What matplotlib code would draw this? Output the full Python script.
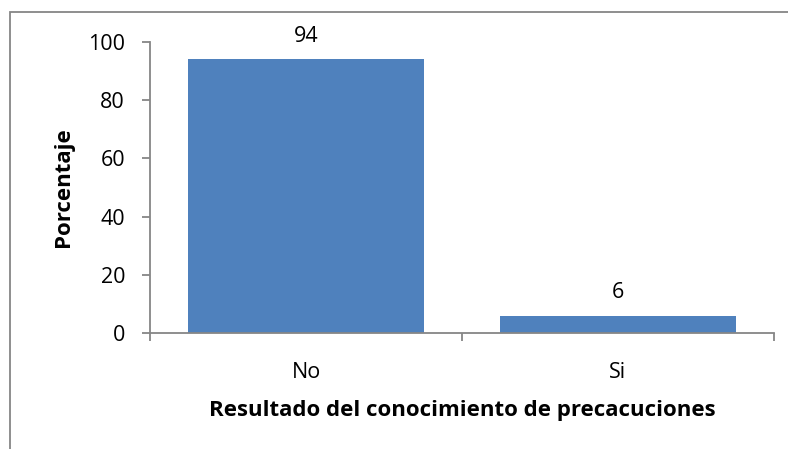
import matplotlib
matplotlib.use('Agg')
import matplotlib.pyplot as plt
import matplotlib.patches as patches

categories = ['No', 'Si']
values = [94, 6]
yticks = [0, 20, 40, 60, 80, 100]

plt.rcParams['font.family'] = ['Open Sans', 'DejaVu Sans']

W, H = 788, 449
fig = plt.figure(figsize=(W / 100, H / 100), dpi=100)
# axes box in pixels: left 150, right 774, top 42, bottom 333
ax = fig.add_axes([150 / W, 1 - 333 / H, (774 - 150) / W, (333 - 42) / H])

# outer chart border (clipped on right and bottom like the screenshot)
fig.patches.append(patches.Rectangle((10 / W, -0.1), 1.2, 1 - 12 / H + 0.1,
                                     transform=fig.transFigure, fill=False,
                                     edgecolor='#868686', linewidth=1.3))

x = list(range(len(categories)))
bars = ax.bar(x, values, width=0.756, color='#4F81BD', zorder=2)
for xi, v in zip(x, values):
    ax.text(xi, v + 6, str(v), ha='center', va='baseline', fontsize=15.5)

ax.set_xlim(-0.5, len(categories) - 0.5)
ax.set_ylim(0, 100)
ax.set_yticks(yticks)
ax.set_xticks(x)
ax.set_xticklabels(categories)
ax.set_xticks([-0.5, 0.5, 1.5], minor=True)
ax.tick_params(axis='x', which='major', length=0, pad=21, labelsize=15.5)
ax.tick_params(axis='x', which='minor', length=6, width=1.3, color='#868686', direction='out')
ax.tick_params(axis='y', length=6, width=1.3, color='#868686', labelsize=15.5, pad=12)

for s in ['top', 'right']:
    ax.spines[s].set_visible(False)
for s in ['left', 'bottom']:
    ax.spines[s].set_color('#868686')
    ax.spines[s].set_linewidth(1.3)

ax.set_ylabel('Porcentaje', fontsize=16, fontweight='bold', labelpad=10)
ax.set_xlabel('Resultado del conocimiento de precacuciones', fontsize=16,
              fontweight='bold', labelpad=12)

fig.savefig('out.png', dpi=100)
